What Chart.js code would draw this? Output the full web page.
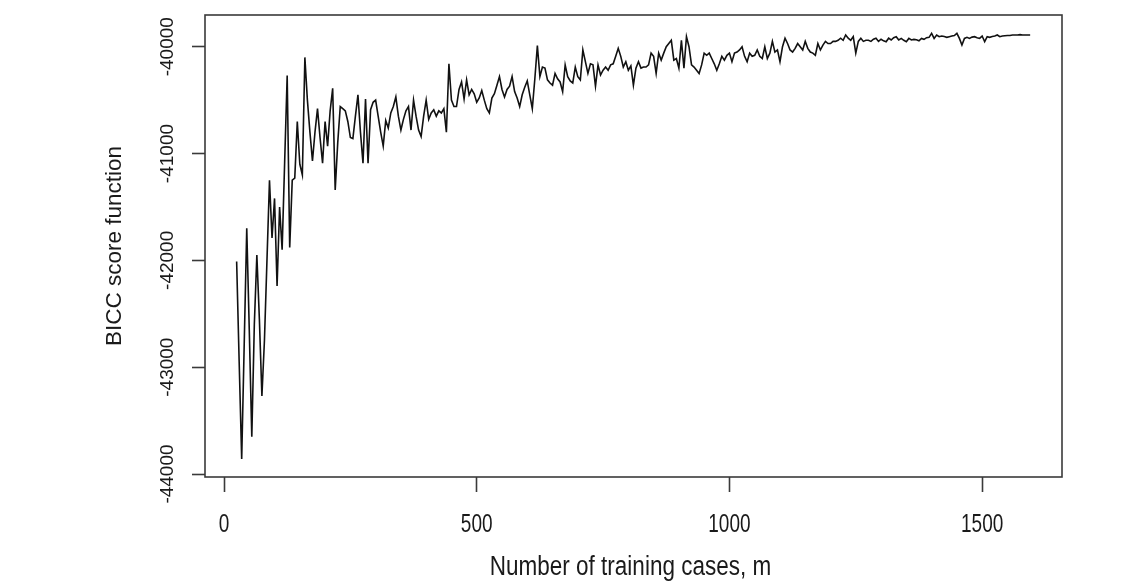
<!DOCTYPE html>
<html>
<head>
<meta charset="utf-8">
<title>BICC score function</title>
<script src="https://cdn.jsdelivr.net/npm/chart.js@4.4.1/dist/chart.umd.min.js"></script>
<style>
  html, body { margin: 0; padding: 0; background: #fff; }
  #wrap { width: 1143px; height: 584px; }
</style>
</head>
<body>
<div id="wrap"><canvas id="biccChart" width="1143" height="584"></canvas></div>
<script>
// ============================================================
// BICC score vs. number of training cases (R base-plot look)
// ============================================================

// BICC score, one value per training size (m = 25, 30, ..., 1595)
const biccScore = [
  -42010, -42950, -43860, -42780, -41700, -42650, -43650, -42600, -41950, -42550,
  -43270, -42750, -42000, -41250, -41790, -41420, -42240, -41500, -41900, -41080,
  -40270, -41880, -41250, -41230, -40700, -41100, -41200, -40100, -40500, -40800,
  -41070, -40800, -40580, -40850, -41090, -40700, -40930, -40600, -40390, -41340,
  -40900, -40560, -40580, -40600, -40700, -40850, -40860, -40650, -40450, -40800,
  -41090, -40490, -41090, -40590, -40520, -40500, -40650, -40800, -40930, -40690,
  -40760, -40620, -40560, -40470, -40650, -40780, -40680, -40600, -40560, -40780,
  -40500, -40650, -40780, -40840, -40650, -40500, -40680, -40620, -40590, -40650,
  -40600, -40620, -40580, -40800, -40160, -40500, -40560, -40560, -40400, -40330,
  -40490, -40310, -40450, -40400, -40440, -40520, -40480, -40410, -40500, -40580,
  -40620, -40480, -40440, -40360, -40280, -40400, -40470, -40400, -40370, -40280,
  -40420, -40480, -40560, -40450, -40380, -40320, -40450, -40580, -40300, -39990,
  -40280, -40190, -40200, -40310, -40340, -40360, -40250, -40300, -40330, -40420,
  -40170, -40280, -40320, -40340, -40190, -40280, -40310, -40030, -40140, -40250,
  -40160, -40170, -40370, -40170, -40265, -40220, -40190, -40220, -40170, -40160,
  -40090, -40015, -40090, -40190, -40140, -40220, -40180, -40360, -40200, -40140,
  -40200, -40190, -40190, -40170, -40060, -40090, -40250, -40060, -40125, -40060,
  -40000, -39970, -39940, -40125, -40110, -40200, -39940, -40200, -39905, -40000,
  -40170, -40190, -40220, -40250, -40170, -40060, -40080, -40060, -40110, -40160,
  -40220, -40160, -40090, -40125, -40080, -40060, -40140, -40060, -40050, -40030,
  -40000, -40090, -40140, -40060, -40090, -40080, -40030, -40090, -40110, -40000,
  -40110, -40060, -39950, -40050, -40030, -40140, -40000, -39920, -39970, -40030,
  -40050, -40015, -39970, -40000, -40030, -39950, -40015, -40050, -40060, -40080,
  -39970, -40030, -39985, -39950, -39970, -39970, -39950, -39950, -39940, -39920,
  -39940, -39890, -39920, -39940, -39905, -40060, -39950, -39920, -39950, -39940,
  -39940, -39950, -39930, -39920, -39950, -39930, -39945, -39953, -39920, -39937,
  -39915, -39906, -39937, -39922, -39940, -39953, -39922, -39937, -39931, -39935,
  -39944, -39922, -39931, -39915, -39912, -39875, -39922, -39890, -39906, -39900,
  -39905, -39912, -39906, -39900, -39895, -39875, -39922, -39984, -39922, -39912,
  -39922, -39910, -39906, -39915, -39922, -39900, -39953, -39906, -39912, -39905,
  -39900, -39890, -39906, -39900, -39897, -39895, -39895, -39890, -39890, -39890,
  -39887, -39890, -39890, -39890, -39890
];

// training sizes: first size 25, step 5 (one per score)
const FIRST_M = 25;
const STEP_M = 5;
const trainingCases = biccScore.map((_, i) => FIRST_M + STEP_M * i);

// axis ticks
const xTicks = [0, 500, 1000, 1500];
const yTicks = [-44000, -43000, -42000, -41000, -40000];

const xTitle = 'Number of training cases, m';
const yTitle = 'BICC score function';

const INK = '#1a1a1a';
const FRAME = '#3a3a3a';
const FONT = '"Liberation Sans", Arial, Helvetica, sans-serif';

Chart.defaults.font.family = FONT;
Chart.defaults.color = INK;

// draw text squeezed/stretched like the scanned R figure
function tallText(ctx, text, x, y, size, sy) {
  ctx.save();
  ctx.translate(x, y);
  ctx.scale(1, sy);
  ctx.font = size + 'px ' + FONT;
  ctx.fillText(text, 0, 0);
  ctx.restore();
}

// R-style box round the plot region + axis labels
const rFrame = {
  id: 'rFrame',
  afterDraw(chart) {
    const { ctx, chartArea: a } = chart;
    const { x, y } = chart.scales;
    ctx.save();
    ctx.strokeStyle = FRAME;
    ctx.lineWidth = 1.6;
    ctx.strokeRect(a.left, a.top, a.right - a.left, a.bottom - a.top);

    ctx.fillStyle = INK;
    ctx.textAlign = 'center';
    ctx.textBaseline = 'middle';

    // y tick labels, written bottom-to-top
    ctx.font = '19px ' + FONT;
    y.ticks.forEach(t => {
      ctx.save();
      ctx.translate(168, y.getPixelForValue(t.value));
      ctx.rotate(-Math.PI / 2);
      ctx.fillText(String(t.value), 0, 0);
      ctx.restore();
    });

    // x tick labels
    x.ticks.forEach(t => {
      tallText(ctx, String(t.value), x.getPixelForValue(t.value), 525, 19, 1.35);
    });

    // x title
    tallText(ctx, xTitle, (a.left + a.right) / 2 - 3, 568, 22.5, 1.2);
    ctx.restore();
  }
};

new Chart(document.getElementById('biccChart'), {
  type: 'line',
  data: {
    datasets: [{
      data: trainingCases.map((m, i) => ({ x: m, y: biccScore[i] })),
      borderColor: '#111',
      borderWidth: 1.6,
      pointRadius: 0,
      tension: 0,
      fill: false
    }]
  },
  options: {
    responsive: false,
    devicePixelRatio: 1,
    animation: false,
    layout: { padding: { top: 15, right: 81, left: 0, bottom: 0 } },
    plugins: {
      legend: { display: false },
      tooltip: { enabled: false }
    },
    scales: {
      x: {
        type: 'linear',
        min: -37.6,
        max: 1658,
        afterBuildTicks: s => { s.ticks = xTicks.map(v => ({ value: v })); },
        afterFit: s => { s.height = 107; },
        border: { display: false },
        grid: {
          drawOnChartArea: false,
          drawTicks: true,
          tickLength: 15,
          tickColor: FRAME,
          tickWidth: 1.6
        },
        ticks: { display: false }
      },
      y: {
        type: 'linear',
        min: -44028,
        max: -39703,
        afterBuildTicks: s => { s.ticks = yTicks.map(v => ({ value: v })); },
        afterFit: s => { s.width = 205; },
        border: { display: false },
        grid: {
          drawOnChartArea: false,
          drawTicks: true,
          tickLength: 13,
          tickColor: FRAME,
          tickWidth: 1.6
        },
        ticks: { display: false },
        title: {
          display: true,
          text: yTitle,
          font: { size: 22.5 },
          color: INK,
          padding: { top: 101, bottom: 0 }
        }
      }
    }
  },
  plugins: [rFrame]
});
</script>
</body>
</html>
